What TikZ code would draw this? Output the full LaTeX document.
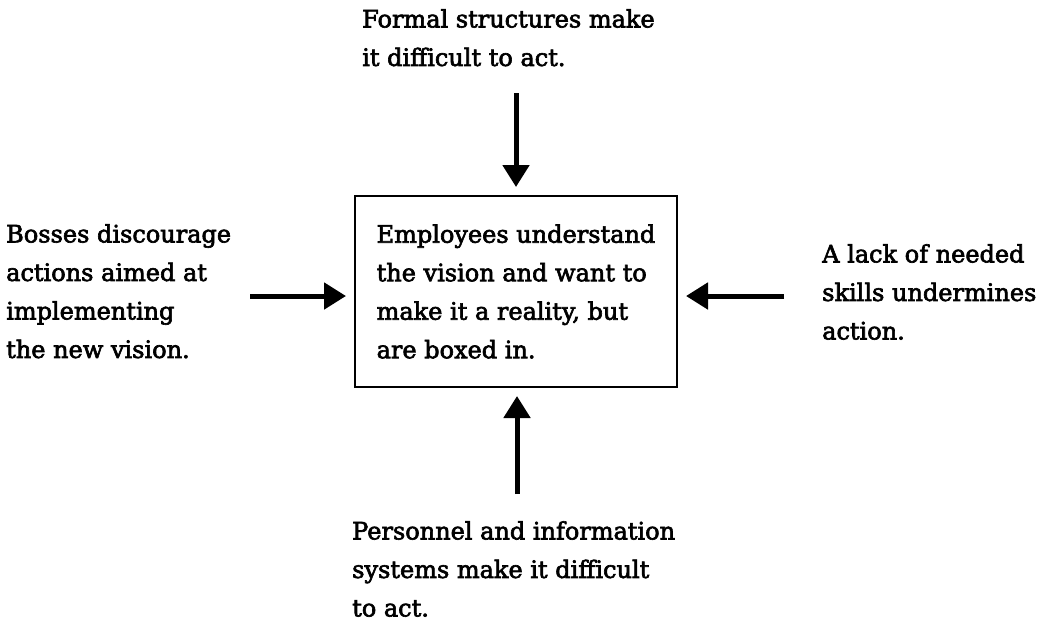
\documentclass[tikz,border=0pt]{standalone}
\usepackage{fontspec}
\setmainfont{DejaVu Serif}
\newfontfamily\labelfont{DejaVu Serif}[FakeBold=2.6]
\usetikzlibrary{arrows.meta}
\begin{document}
\begin{tikzpicture}[x=1pt, y=-1pt, every node/.style={inner sep=0pt, align=left, anchor=north west, font=\labelfont\fontsize{24}{38.5}\selectfont}]
\useasboundingbox (0,0) rectangle (1043,625);
\tikzset{push/.style={line width=5pt, -{Triangle[width=26pt,length=22pt]}, shorten >=8pt}}
    \node[draw, line width=2pt, anchor=center, minimum width=322pt, minimum height=191pt, inner xsep=18pt] (box) at (516,291.5) {Employees understand\\the vision and want to\\make it a reality, but\\are boxed in.};
    \node (top) at (362,9) {Formal structures make\\it difficult to act.};
    \node (left) at (6,224) {Bosses discourage\\actions aimed at\\implementing\\the new vision.};
    \node (right) at (822,244) {A lack of needed\\skills undermines\\action.};
    \node (bottom) at (352,521) {Personnel and information\\systems make it difficult\\to act.};
\coordinate (c0) at (516,93);
\coordinate (c1) at (517,494);
\coordinate (c2) at (250,296);
\coordinate (c3) at (784,296);
    \foreach \from/\to in {c0/box.north, c1/box.south}
        \draw[push] (\from) -- (\from |- \to);
    \foreach \from/\to in {c2/box.west, c3/box.east}
        \draw[push] (\from) -- (\from -| \to);
\end{tikzpicture}
\end{document}
